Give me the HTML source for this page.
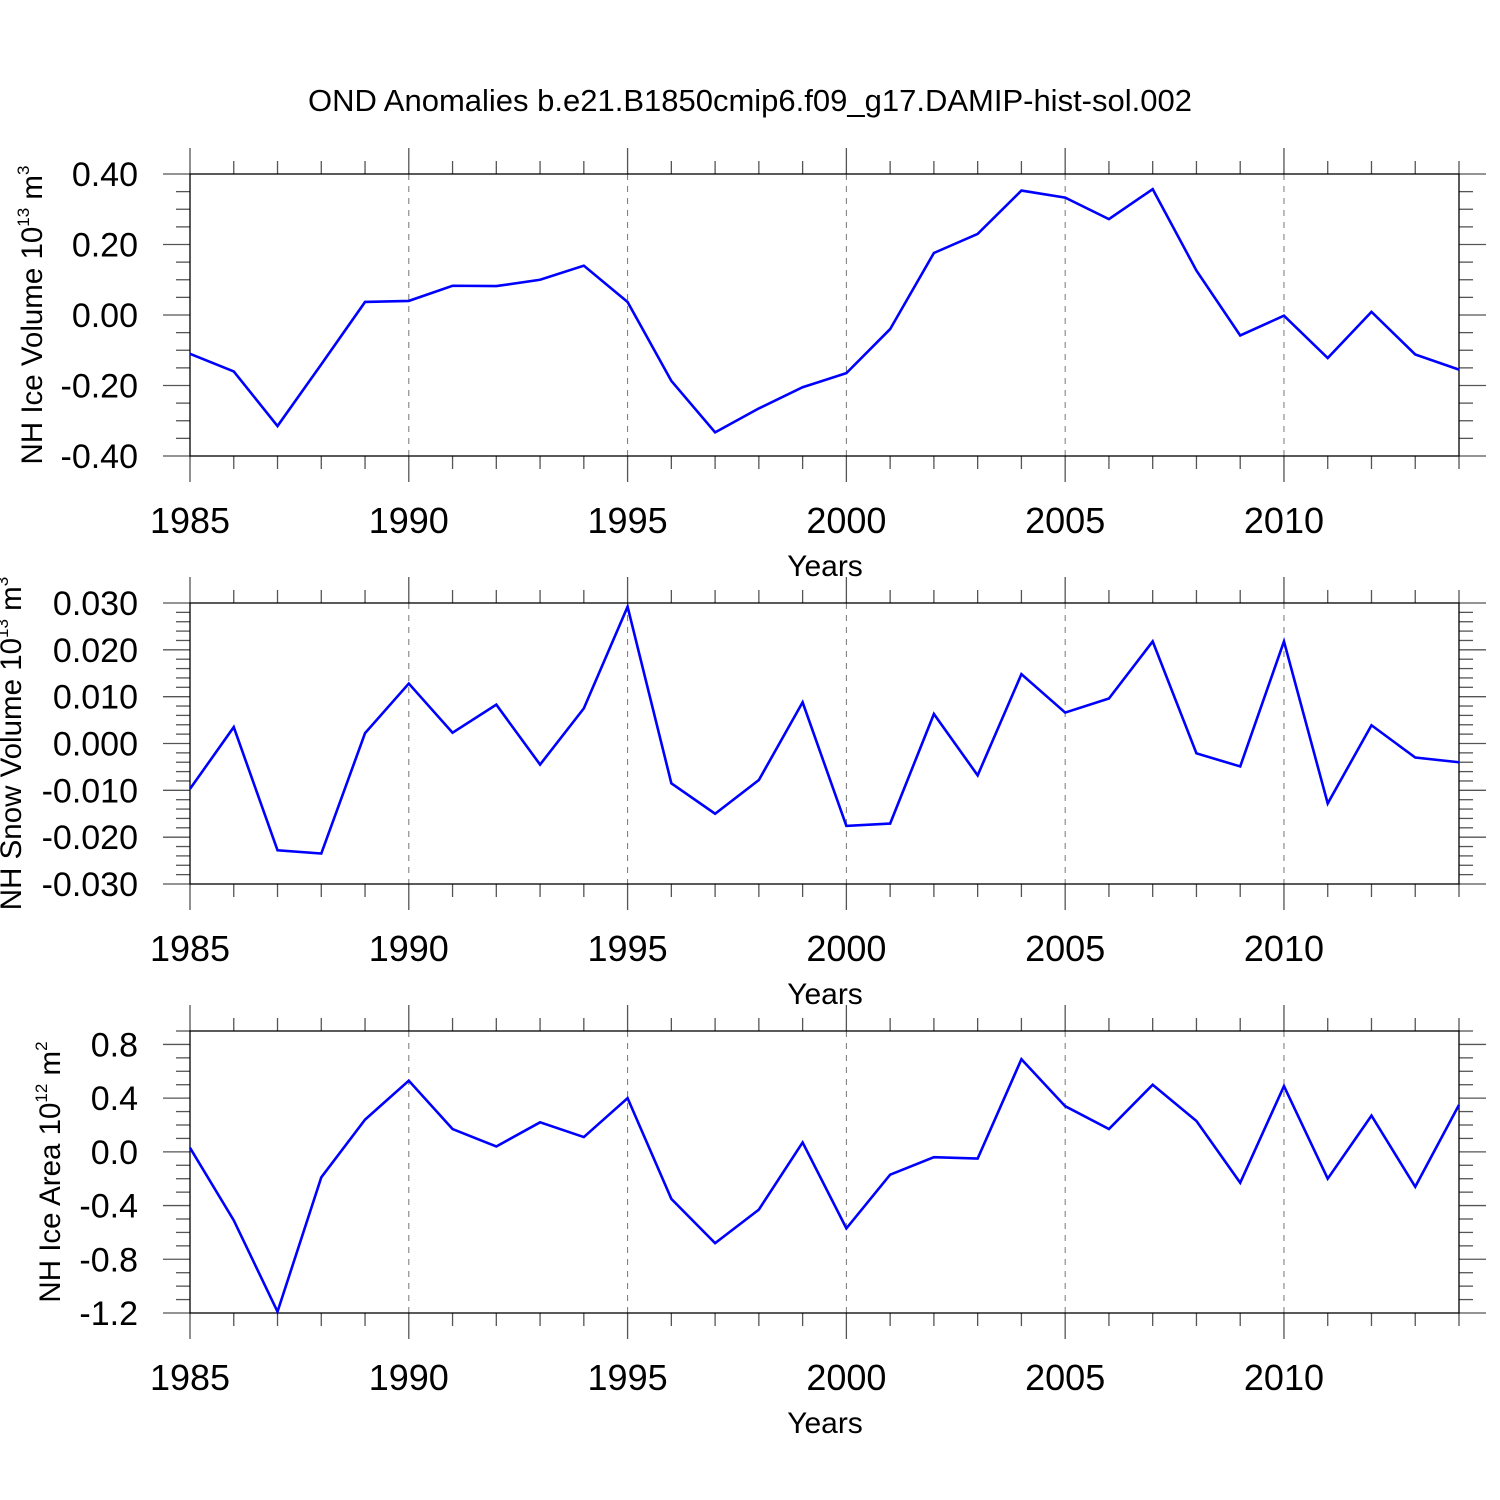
<!DOCTYPE html>
<html><head><meta charset="utf-8"><style>
html,body{margin:0;padding:0;background:#fff;}
svg{display:block;font-family:"Liberation Sans",sans-serif;}
</style></head><body>
<svg id="chart" width="1500" height="1500" viewBox="0 0 1500 1500">
<rect width="1500" height="1500" fill="#fff"/>
<text x="750" y="111" font-size="31" text-anchor="middle">OND Anomalies b.e21.B1850cmip6.f09_g17.DAMIP-hist-sol.002</text>
</svg>
<script>
const years = [1985,1986,1987,1988,1989,1990,1991,1992,1993,1994,1995,1996,1997,1998,1999,2000,2001,2002,2003,2004,2005,2006,2007,2008,2009,2010,2011,2012,2013,2014];
const iceVolume = [-0.11,-0.16,-0.315,-0.14,0.037,0.04,0.083,0.082,0.10,0.14,0.037,-0.187,-0.333,-0.265,-0.205,-0.165,-0.04,0.176,0.23,0.353,0.333,0.272,0.357,0.126,-0.058,-0.002,-0.122,0.009,-0.112,-0.155];
const snowVolume = [-0.0097,0.0035,-0.0228,-0.0235,0.0022,0.0128,0.0023,0.0083,-0.0045,0.0075,0.0292,-0.0085,-0.015,-0.0078,0.0088,-0.0176,-0.0171,0.0063,-0.0068,0.0148,0.0066,0.0096,0.0218,-0.0021,-0.0049,0.0218,-0.0128,0.0039,-0.003,-0.004];
const iceArea = [0.03,-0.51,-1.19,-0.19,0.24,0.53,0.17,0.04,0.22,0.11,0.40,-0.35,-0.68,-0.43,0.07,-0.57,-0.17,-0.04,-0.05,0.69,0.34,0.17,0.50,0.23,-0.23,0.49,-0.20,0.27,-0.26,0.35];
const xTickLabels = ["1985","1990","1995","2000","2005","2010"];
const iceVolTicks = ["0.40","0.20","0.00","-0.20","-0.40"];
const snowTicks = ["0.030","0.020","0.010","0.000","-0.010","-0.020","-0.030"];
const areaTicks = ["0.8","0.4","0.0","-0.4","-0.8","-1.2"];

const NS="http://www.w3.org/2000/svg";
const svg=document.getElementById('chart');
function mk(tag,attrs,parent){const e=document.createElementNS(NS,tag);for(const k in attrs)e.setAttribute(k,attrs[k]);(parent||svg).appendChild(e);return e;}
const X0=190,X1=1459;
function xs(yr){return X0+(yr-1985)*(X1-X0)/(2014-1985);}

function panel(cfg){
  const g=mk('g',{});
  
  
  const ys=v=>cfg.top+(cfg.ymax-v)*(cfg.bot-cfg.top)/(cfg.ymax-cfg.ymin);
  for(let yr=1990;yr<=2010;yr+=5){
    const l=mk('line',{x1:xs(yr),x2:xs(yr),y1:cfg.top,y2:cfg.bot,stroke:'#777','stroke-width':1,'stroke-dasharray':'6,6'},g);
    
    
  }
  for(let yr=1985;yr<=2014;yr++){
    const maj=(yr%5===0), len=maj?26:13;
    mk('line',{x1:xs(yr),x2:xs(yr),y1:cfg.top-len,y2:cfg.top,stroke:'#555','stroke-width':1.3},g);
    mk('line',{x1:xs(yr),x2:xs(yr),y1:cfg.bot,y2:cfg.bot+len,stroke:'#555','stroke-width':1.3},g);
  }
  for(let v=cfg.ymin;v<=cfg.ymax+1e-9;v+=cfg.minor){
    const y=ys(v); const isMaj=Math.abs(Math.round((v-cfg.ymajStart)/cfg.major)*cfg.major-(v-cfg.ymajStart))<1e-9;
    const len=isMaj?27:14;
    mk('line',{x1:X0-len,x2:X0,y1:y,y2:y,stroke:'#555','stroke-width':1.3},g);
    mk('line',{x1:X1,x2:X1+len,y1:y,y2:y,stroke:'#555','stroke-width':1.3},g);
  }
  cfg.ticks.forEach(t=>{
    const tx=mk('text',{x:138,y:ys(parseFloat(t))+12,'font-size':34,'text-anchor':'end'},g);
    tx.textContent=t;
    
    
  });
  const fr=mk('rect',{x:X0,y:cfg.top,width:X1-X0,height:cfg.bot-cfg.top,fill:'none',stroke:'#000','stroke-width':1.3},g);
  
  
  xTickLabels.forEach(t=>{
    const tx=mk('text',{x:xs(+t),y:cfg.bot+77,'font-size':36,'text-anchor':'middle'},g);
    tx.textContent=t;
    
    
  });
  const xt=mk('text',{x:825,y:cfg.bot+120,'font-size':30,'text-anchor':'middle'},g);
  xt.textContent='Years';
  
  
  const cy=(cfg.top+cfg.bot)/2;
  const yt=mk('text',{x:0,y:0,'font-size':29.5,'text-anchor':'middle',transform:`translate(${cfg.tx},${cy}) rotate(-90)`},g);
  
  
  const t1=mk('tspan',{},yt); t1.textContent=cfg.title+' 10';
  const t2=mk('tspan',{'font-size':17,dy:-13}); yt.appendChild(t2); t2.textContent=cfg.exp;
  const t3=mk('tspan',{dy:13}); yt.appendChild(t3); t3.textContent=' m';
  const t4=mk('tspan',{'font-size':17,dy:-13}); yt.appendChild(t4); t4.textContent=cfg.unitExp;
  const pts=years.map((yr,i)=>xs(yr)+','+ys(cfg.data[i])).join(' ');
  const pl=mk('polyline',{points:pts,fill:'none',stroke:'#0000ff','stroke-width':2.6,'stroke-linejoin':'miter'},g);
  
  
}
panel({name:'ice-volume-panel',top:174,bot:456,ymin:-0.4,ymax:0.4,minor:0.05,major:0.2,ymajStart:-0.4,ticks:iceVolTicks,data:iceVolume,title:'NH Ice Volume',exp:'13',unitExp:'3',tx:42});
panel({name:'snow-volume-panel',top:603,bot:884,ymin:-0.03,ymax:0.03,minor:0.002,major:0.01,ymajStart:-0.03,ticks:snowTicks,data:snowVolume,title:'NH Snow Volume',exp:'13',unitExp:'3',tx:21});
panel({name:'ice-area-panel',top:1031,bot:1313,ymin:-1.2,ymax:-1.2+2.1,minor:0.1,major:0.4,ymajStart:-1.2,ticks:areaTicks,data:iceArea,title:'NH Ice Area',exp:'12',unitExp:'2',tx:60});
</script>
</body></html>
